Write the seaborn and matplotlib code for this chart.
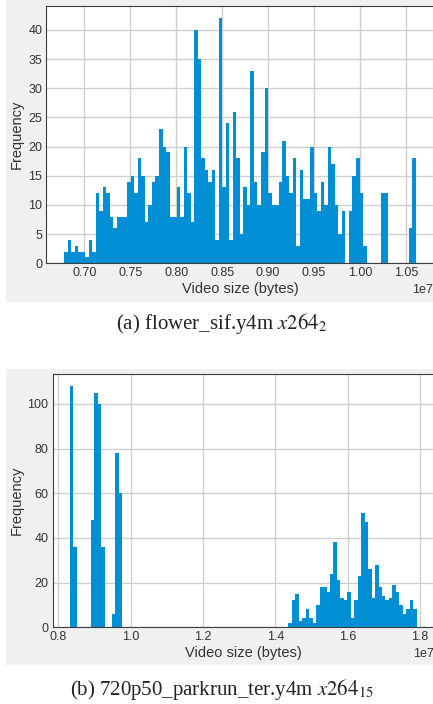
import numpy as np
import pandas as pd
import matplotlib
matplotlib.use('Agg')
import matplotlib.pyplot as plt
from matplotlib.patches import Rectangle
from matplotlib.ticker import MultipleLocator
import seaborn as sns

# ─── Data: 100-bin histograms of video sizes ────────────
a_lo, a_hi = 0.6778e7, 1.0609e7
counts_a = [2, 4, 2, 3, 2, 2, 1, 4, 2, 12,
            9, 13, 12, 8, 6, 8, 8, 8, 14, 15,
            12, 18, 15, 7, 10, 14, 15, 23, 20, 19,
            8, 8, 13, 8, 20, 12, 7, 40, 35, 18,
            16, 14, 16, 4, 42, 13, 24, 4, 26, 18,
            5, 13, 10, 33, 14, 10, 19, 30, 12, 10,
            10, 14, 21, 15, 12, 18, 3, 16, 11, 11,
            20, 12, 9, 14, 10, 20, 17, 10, 5, 9,
            0, 9, 15, 18, 12, 3, 0, 0, 0, 0,
            12, 12, 0, 0, 0, 0, 0, 0, 6, 18]

b_lo, b_hi = 0.832e7, 1.791e7
counts_b = [108, 36, 0, 0, 0, 0, 48, 105, 100, 36,
            0, 0, 6, 78, 60, 0, 0, 0, 0, 0,
            0, 0, 0, 0, 0, 0, 0, 0, 0, 0,
            0, 0, 0, 0, 0, 0, 0, 0, 0, 0,
            0, 0, 0, 0, 0, 0, 0, 0, 0, 0,
            0, 0, 0, 0, 0, 0, 0, 0, 0, 0,
            0, 0, 0, 2, 12, 15, 3, 4, 8, 4,
            2, 10, 18, 18, 16, 24, 38, 21, 13, 12,
            16, 4, 12, 23, 51, 47, 26, 13, 28, 18,
            14, 12, 13, 19, 16, 10, 6, 8, 12, 8]

caption_a = r'(a) flower_sif.y4m $x264_{2}$'
caption_b = r'(b) 720p50_parkrun_ter.y4m $x264_{15}$'
XLABEL = 'Video size (bytes)'
YLABEL = 'Frequency'

BLUE  = '#008fd5'
PANEL = '#f0f0f0'
INK   = '#333333'

sns.set_style('whitegrid', {'axes.edgecolor': '#3c3c3c', 'grid.color': '#cfcfcf',
                            'axes.linewidth': 1.2})
plt.rcParams['font.family'] = ['Liberation Sans', 'DejaVu Sans']
plt.rcParams['mathtext.fontset'] = 'stix'

W, H = 433, 704
fig = plt.figure(figsize=(W / 100, H / 100), dpi=100)


def box(x0, y0, x1, y1):
    # pixel box (top-left origin) -> figure fraction rect
    return [x0 / W, 1 - y1 / H, (x1 - x0) / W, (y1 - y0) / H]


# grey panels behind each chart
for y0, y1 in [(0, 302), (369, 665)]:
    r = box(6, y0, 440, y1)
    fig.patches.append(Rectangle((r[0], r[1]), r[2], r[3], transform=fig.transFigure,
                                 facecolor=PANEL, edgecolor='none', zorder=-5))


def draw(ax, lo, hi, counts, xstep, ystep):
    nb = len(counts)
    w = (hi - lo) / nb
    df = pd.DataFrame({'size': lo + w * (np.arange(nb) + 0.5), 'n': counts})
    sns.histplot(data=df, x='size', weights='n', bins=nb, binrange=(lo, hi), ax=ax,
                 color=BLUE, alpha=1, linewidth=0)
    ax.xaxis.set_major_locator(MultipleLocator(xstep))
    ax.yaxis.set_major_locator(MultipleLocator(ystep))
    ax.set_xlabel(XLABEL, fontsize=10.5, color=INK, labelpad=2)
    ax.set_ylabel(YLABEL, fontsize=10.5, color=INK, labelpad=3)
    ax.tick_params(axis='both', length=0, pad=3, labelsize=9, labelcolor=INK)
    ax.xaxis.get_offset_text().set_fontsize(9)
    ax.xaxis.get_offset_text().set_color(INK)
    ax.grid(True, color='#cfcfcf', lw=1)
    ax.spines['right'].set_visible(False)
    ax.set_facecolor('white')


ax1 = fig.add_axes(box(46.4, 6, 433.4, 263.3))
draw(ax1, a_lo, a_hi, counts_a, 0.05e7, 5)

ax2 = fig.add_axes(box(52.7, 374, 434, 627.3))
draw(ax2, b_lo, b_hi, counts_b, 0.2e7, 20)

cap_font = dict(family=['Liberation Serif', 'DejaVu Serif'], fontsize=15,
                color='#222222', ha='center', va='center')
fig.text(222 / W, 1 - 324 / H, caption_a, **cap_font)
fig.text(222 / W, 1 - 690 / H, caption_b, **cap_font)

fig.savefig('out.png', dpi=100, facecolor='white')
